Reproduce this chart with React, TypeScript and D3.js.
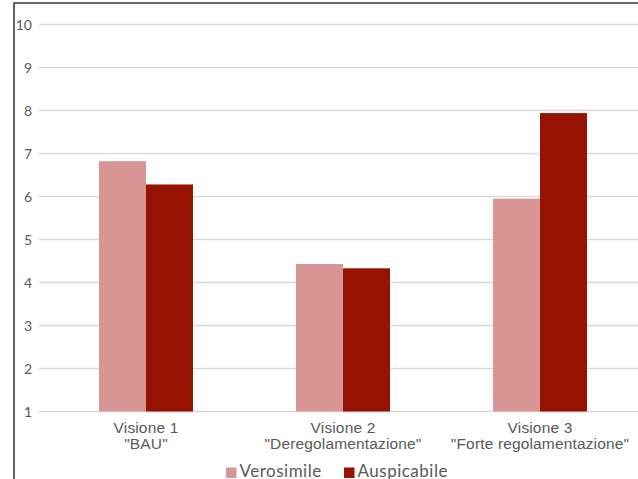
import React, { useEffect, useRef } from 'react';
import * as d3 from 'd3';

const categories = ['Visione 1\n"BAU"', 'Visione 2\n"Deregolamentazione"', 'Visione 3\n"Forte regolamentazione"'];
const seriesNames = ['Verosimile', 'Auspicabile'];
const verosimile = [6.82, 4.43, 5.95];
const auspicabile = [6.28, 4.33, 7.94];
const yTicks = [1, 2, 3, 4, 5, 6, 7, 8, 9, 10];
const colors = ['#d99594', '#971200'];

export default function App() {
  const svgRef = useRef<SVGSVGElement>(null);
  const width = 638;
  const height = 479;

  useEffect(() => {
    if (!svgRef.current) return;
    const svg = d3.select(svgRef.current);
    svg.selectAll('*').remove();

    const y = d3.scaleLinear().domain([1, 10]).range([411.5, 24.5]);
    const x0 = d3.scaleBand<string>()
      .domain(categories)
      .range([47.5, 638.5])
      .paddingInner(0.523)
      .paddingOuter(0.2615);
    const x1 = d3.scaleBand<string>()
      .domain(seriesNames)
      .range([0, x0.bandwidth()]);

    // gridlines
    svg.append('g')
      .selectAll('line')
      .data(yTicks)
      .enter()
      .append('line')
      .attr('x1', 39)
      .attr('x2', width)
      .attr('y1', d => y(d))
      .attr('y2', d => y(d))
      .attr('stroke', '#d9d9d9')
      .attr('stroke-width', 1.3);

    // y labels
    svg.append('g')
      .selectAll('text')
      .data(yTicks)
      .enter()
      .append('text')
      .attr('x', 32)
      .attr('y', d => y(d) + 5)
      .attr('text-anchor', 'end')
      .attr('font-family', 'Lato, "Open Sans", sans-serif')
      .attr('font-size', 14)
      .attr('fill', '#595959')
      .text(d => d);

    // bars
    const values = [verosimile, auspicabile];
    values.forEach((vals, si) => {
      svg.append('g')
        .selectAll('rect')
        .data(vals)
        .enter()
        .append('rect')
        .attr('x', (d, i) => (x0(categories[i]) as number) + (x1(seriesNames[si]) as number))
        .attr('y', d => y(d))
        .attr('width', x1.bandwidth())
        .attr('height', d => y(1) - y(d))
        .attr('fill', colors[si]);
    });

    // category labels
    const cat = svg.append('g')
      .selectAll('text')
      .data(categories)
      .enter()
      .append('text')
      .attr('text-anchor', 'middle')
      .attr('font-family', '"Liberation Sans", Arial, sans-serif')
      .attr('font-size', 15.5)
      .attr('letter-spacing', 0.15)
      .attr('fill', '#595959');
    cat.each(function (d) {
      const cx = (x0(d) as number) + x0.bandwidth() / 2;
      d.split('\n').forEach((line, li) => {
        d3.select(this)
          .append('tspan')
          .attr('x', cx)
          .attr('y', 432.5 + li * 16)
          .text(line);
      });
    });

    // legend
    const legendX = [226, 344];
    seriesNames.forEach((name, i) => {
      svg.append('rect')
        .attr('x', legendX[i])
        .attr('y', 467.5)
        .attr('width', 10.5)
        .attr('height', 10.5)
        .attr('fill', colors[i]);
      svg.append('text')
        .attr('x', legendX[i] + 13.5)
        .attr('y', 476.5)
        .attr('font-family', 'Lato, "Open Sans", sans-serif')
        .attr('font-size', 17)
        .attr('letter-spacing', 0.5)
        .attr('fill', '#595959')
        .text(name);
    });

    // frame
    svg.append('path')
      .attr('d', `M14,${height} L14,3 L${width},3`)
      .attr('fill', 'none')
      .attr('stroke', '#3a3a3a')
      .attr('stroke-width', 1.6);
  }, []);

  return (
    <svg
      ref={svgRef}
      width={width}
      height={height}
      style={{ position: 'absolute', left: 0, top: 0, background: '#fff' }}
    />
  );
}
